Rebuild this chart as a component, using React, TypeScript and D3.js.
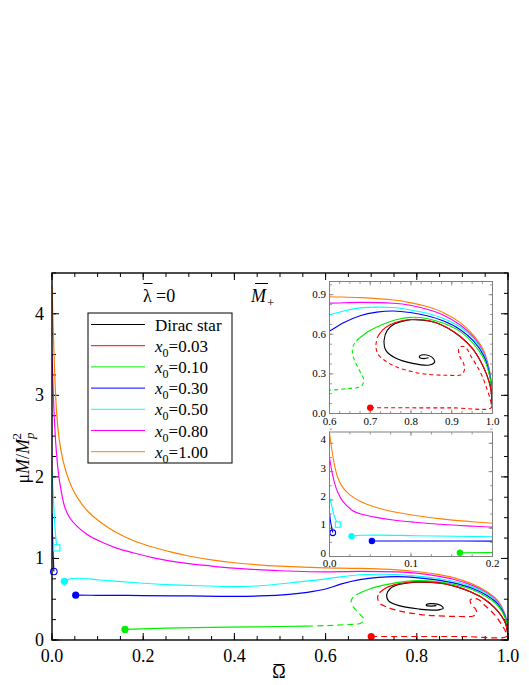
import React from 'react'
import * as d3 from 'd3'

type Pt = [number, number]

// each curve is a list of [Omega, muM/Mp^2]
const diracStar: Pt[] = [
  [1.0, 0.05], [0.995, 0.2], [0.985, 0.3], [0.97, 0.4], [0.95, 0.495], [0.92, 0.585],
  [0.89, 0.648], [0.86, 0.69], [0.83, 0.707], [0.8, 0.71], [0.78, 0.7], [0.76, 0.68],
  [0.742, 0.632], [0.734, 0.557], [0.738, 0.48], [0.763, 0.418], [0.804, 0.38],
  [0.845, 0.367], [0.858, 0.39], [0.852, 0.425], [0.835, 0.445], [0.822, 0.438],
  [0.821, 0.424], [0.832, 0.416], [0.843, 0.422]
]

const x003Dashed: Pt[] = [
  [0.7, 0.043], [0.8, 0.043], [0.9, 0.043], [0.997, 0.045], [0.995, 0.1], [0.987, 0.18],
  [0.975, 0.28], [0.96, 0.37], [0.946, 0.44], [0.937, 0.49], [0.926, 0.51], [0.917, 0.49],
  [0.92, 0.43], [0.929, 0.38], [0.931, 0.33], [0.924, 0.295], [0.884, 0.29], [0.837, 0.298],
  [0.804, 0.316], [0.763, 0.354], [0.734, 0.405], [0.718, 0.455], [0.714, 0.52], [0.718, 0.58]
]
const x003Solid: Pt[] = [
  [0.718, 0.58], [0.73, 0.632], [0.75, 0.675], [0.775, 0.7], [0.8, 0.712], [0.83, 0.71],
  [0.86, 0.69], [0.89, 0.648], [0.92, 0.585], [0.95, 0.495], [0.97, 0.4], [0.985, 0.3],
  [0.995, 0.2], [1.0, 0.05]
]

const x010Solid1: Pt[] = [[0.16, 0.13], [0.25, 0.145], [0.35, 0.155], [0.45, 0.162], [0.56, 0.17]]
const x010Dashed: Pt[] = [
  [0.56, 0.17], [0.603, 0.177], [0.648, 0.19], [0.677, 0.205], [0.684, 0.25], [0.673, 0.33],
  [0.661, 0.405], [0.656, 0.48], [0.663, 0.54], [0.673, 0.57]
]
const x010Solid2: Pt[] = [
  [0.673, 0.57], [0.697, 0.625], [0.73, 0.675], [0.763, 0.71], [0.798, 0.728], [0.839, 0.72],
  [0.88, 0.683], [0.921, 0.62], [0.953, 0.53], [0.978, 0.42], [0.994, 0.27], [1.0, 0.05]
]

const x030Upper: Pt[] = [[0, 1.55], [0.001, 1.3], [0.0025, 1.05], [0.004, 0.84]]
const x030Lower: Pt[] = [
  [0.052, 0.55], [0.1, 0.548], [0.2, 0.545], [0.3, 0.54], [0.4, 0.535], [0.456, 0.54],
  [0.52, 0.56], [0.56, 0.585], [0.6, 0.625], [0.633, 0.685], [0.675, 0.74], [0.716, 0.768],
  [0.757, 0.777], [0.798, 0.765], [0.839, 0.74], [0.88, 0.7], [0.921, 0.635], [0.953, 0.55],
  [0.978, 0.44], [0.994, 0.28], [1.0, 0.05]
]

const x050Upper: Pt[] = [[0, 2.08], [0.003, 1.75], [0.006, 1.42], [0.0105, 1.13]]
const x050Lower: Pt[] = [
  [0.027, 0.72], [0.04, 0.75], [0.061, 0.757], [0.105, 0.736], [0.178, 0.705], [0.251, 0.68],
  [0.325, 0.665], [0.398, 0.655], [0.456, 0.665], [0.529, 0.705], [0.588, 0.74], [0.633, 0.775],
  [0.675, 0.8], [0.716, 0.806], [0.757, 0.803], [0.798, 0.785], [0.839, 0.76], [0.88, 0.72],
  [0.921, 0.655], [0.953, 0.57], [0.978, 0.455], [0.994, 0.29], [1.0, 0.05]
]

const x080: Pt[] = [
  [0, 3.5], [0.003, 3.0], [0.006, 2.62], [0.01, 2.28], [0.0164, 1.95], [0.0285, 1.62],
  [0.04, 1.49], [0.054, 1.4], [0.078, 1.29], [0.105, 1.21], [0.14, 1.13], [0.178, 1.07],
  [0.22, 1.01], [0.251, 0.977], [0.3, 0.937], [0.35, 0.907], [0.398, 0.882], [0.45, 0.862],
  [0.5, 0.849], [0.55, 0.84], [0.6, 0.836], [0.675, 0.842], [0.757, 0.835], [0.798, 0.82],
  [0.839, 0.79], [0.88, 0.745], [0.921, 0.67], [0.953, 0.58], [0.978, 0.465], [0.994, 0.3],
  [1.0, 0.05]
]

const x100: Pt[] = [
  [0, 4.35], [0.003, 3.75], [0.006, 3.25], [0.01, 2.8], [0.016, 2.45], [0.025, 2.18],
  [0.037, 1.96], [0.05, 1.8], [0.065, 1.67], [0.08, 1.57], [0.105, 1.45], [0.14, 1.32],
  [0.178, 1.22], [0.22, 1.14], [0.26, 1.08], [0.3, 1.03], [0.35, 0.982], [0.4, 0.947],
  [0.45, 0.922], [0.5, 0.905], [0.55, 0.893], [0.6, 0.885], [0.675, 0.878], [0.757, 0.86],
  [0.798, 0.84], [0.839, 0.81], [0.88, 0.764], [0.921, 0.688], [0.953, 0.594], [0.978, 0.48],
  [0.994, 0.3], [1.0, 0.05]
]

const filledDots: { p: Pt; c: string }[] = [
  { p: [0.7, 0.043], c: '#ff0000' },
  { p: [0.16, 0.13], c: '#00ee00' },
  { p: [0.052, 0.55], c: '#0000ff' },
  { p: [0.027, 0.72], c: '#00ffff' }
]
const openCircle: Pt = [0.004, 0.84]
const openSquare: Pt = [0.0105, 1.13]

const legendNames = ['Dirac star', '0.03', '0.10', '0.30', '0.50', '0.80', '1.00']
const legendColors = ['#000000', '#ff0000', '#00ee00', '#0000ff', '#00ffff', '#ff00ff', '#ff8000']

// drawing order: orange at the back, red on top
const curves = [
  { pts: x100, c: '#ff8000', dashed: false },
  { pts: x080, c: '#ff00ff', dashed: false },
  { pts: x050Upper, c: '#00ffff', dashed: false },
  { pts: x050Lower, c: '#00ffff', dashed: false },
  { pts: x030Upper, c: '#0000ff', dashed: false },
  { pts: x030Lower, c: '#0000ff', dashed: false },
  { pts: x010Solid1, c: '#00ee00', dashed: false },
  { pts: x010Dashed, c: '#00ee00', dashed: true },
  { pts: x010Solid2, c: '#00ee00', dashed: false },
  { pts: diracStar, c: '#000000', dashed: false },
  { pts: x003Dashed, c: '#ff0000', dashed: true },
  { pts: x003Solid, c: '#ff0000', dashed: false }
]

const FONT = 'Liberation Serif, Times New Roman, serif'

const steps = (a: number, b: number, s: number) => d3.range(a, b + s / 2, s).map(v => +v.toFixed(4))

type PanelProps = {
  id: string
  sx: d3.ScaleLinear<number, number>
  sy: d3.ScaleLinear<number, number>
  xMajor: number[]
  xMinor: number[]
  yMajor: number[]
  yMinor: number[]
  tMaj: number
  tMin: number
  stroke: string
  strokeW: number
  font: number
  fmtX: (v: number) => string
  fmtY: (v: number) => string
  xLabelY: number
  yLabelX: number
  yLabelDy: number
  r: number
  lineW: number
  dash: string
  inset?: boolean
}

function Panel(p: PanelProps) {
  const [x0, x1] = p.sx.range()
  const [yb, yt] = p.sy.range()
  const [dx0, dx1] = p.sx.domain()
  const [dy0, dy1] = p.sy.domain()
  const line = d3
    .line<Pt>()
    .x(d => p.sx(d[0]))
    .y(d => p.sy(d[1]))
    .curve(d3.curveCatmullRom.alpha(0.5))
  const inside = (d: Pt) => d[0] >= dx0 && d[0] <= dx1 && d[1] >= dy0 && d[1] <= dy1
  const ticks: JSX.Element[] = []
  const addX = (vals: number[], len: number, k: string) =>
    vals.forEach((v, i) => {
      const x = p.sx(v)
      ticks.push(<line key={k + 'b' + i} x1={x} x2={x} y1={yb} y2={yb - len} />)
      ticks.push(<line key={k + 't' + i} x1={x} x2={x} y1={yt} y2={yt + len} />)
    })
  const addY = (vals: number[], len: number, k: string) =>
    vals.forEach((v, i) => {
      const y = p.sy(v)
      ticks.push(<line key={k + 'l' + i} x1={x0} x2={x0 + len} y1={y} y2={y} />)
      ticks.push(<line key={k + 'r' + i} x1={x1} x2={x1 - len} y1={y} y2={y} />)
    })
  addX(p.xMinor, p.tMin, 'xm')
  addX(p.xMajor, p.tMaj, 'xM')
  addY(p.yMinor, p.tMin, 'ym')
  addY(p.yMajor, p.tMaj, 'yM')
  return (
    <g>
      {p.inset && <rect x={x0} y={yt} width={x1 - x0} height={yb - yt} fill="#fff" />}
      <clipPath id={p.id}>
        <rect x={x0} y={yt} width={x1 - x0} height={yb - yt} />
      </clipPath>
      <g stroke={p.stroke} strokeWidth={p.inset ? 0.8 : 1}>{ticks}</g>
      <g clipPath={`url(#${p.id})`} fill="none">
        {curves.map((c, i) => (
          <path
            key={i}
            d={line(c.pts) || ''}
            stroke={c.c}
            strokeWidth={p.lineW}
            strokeDasharray={c.dashed ? p.dash : undefined}
          />
        ))}
      </g>
      {filledDots.filter(d => inside(d.p)).map((d, i) => (
        <circle key={i} cx={p.sx(d.p[0])} cy={p.sy(d.p[1])} r={p.r} fill={d.c} />
      ))}
      {inside(openCircle) && (
        <circle cx={p.sx(openCircle[0])} cy={p.sy(openCircle[1])} r={p.r - 0.3} fill="none" stroke="#0000ff" strokeWidth={1.1} />
      )}
      {inside(openSquare) && (
        <rect
          x={p.sx(openSquare[0]) - p.r + 0.5}
          y={p.sy(openSquare[1]) - p.r + 0.5}
          width={2 * p.r - 1}
          height={2 * p.r - 1}
          fill="#fff"
          stroke="#00ffff"
          strokeWidth={1.1}
        />
      )}
      <rect x={x0} y={yt} width={x1 - x0} height={yb - yt} fill="none" stroke={p.stroke} strokeWidth={p.strokeW} />
      <g style={{ fontFamily: FONT }} fontSize={p.font} fill="#000">
        {p.xMajor.map((v, i) => (
          <text key={'lx' + i} x={p.sx(v)} y={p.xLabelY} textAnchor="middle">
            {p.fmtX(v)}
          </text>
        ))}
        {p.yMajor.map((v, i) => (
          <text key={'ly' + i} x={p.yLabelX} y={p.sy(v) + p.yLabelDy} textAnchor="end">
            {p.fmtY(v)}
          </text>
        ))}
      </g>
    </g>
  )
}

const mainX = d3.scaleLinear().domain([0, 1]).range([52, 508])
const mainY = d3.scaleLinear().domain([0, 4.5]).range([640, 273])
const upX = d3.scaleLinear().domain([0.6, 1]).range([329.5, 492.5])
const upY = d3.scaleLinear().domain([0, 1]).range([413.5, 281.5])
const loX = d3.scaleLinear().domain([0, 0.2]).range([329.5, 492.5])
const loY = d3.scaleLinear().domain([0, 4.4]).range([556.5, 432])

export default function App() {
  const legendX = 88
  const legendTop = 313
  const rowH = 21.2
  return (
    <svg width={529} height={685} style={{ position: 'absolute', left: 0, top: 0, background: '#fff' }}>
      <Panel
        id="clipMain"
        sx={mainX}
        sy={mainY}
        xMajor={steps(0, 1, 0.2)}
        xMinor={steps(0, 1, 0.05)}
        yMajor={steps(0, 4, 1)}
        yMinor={steps(0, 4.5, 0.25)}
        tMaj={7}
        tMin={4}
        stroke="#000"
        strokeW={1.4}
        font={18}
        fmtX={d3.format('.1f')}
        fmtY={d3.format('d')}
        xLabelY={662}
        yLabelX={44}
        yLabelDy={6}
        r={3.6}
        lineW={1.2}
        dash="6,4"
      />

      {/* legend */}
      <rect x={legendX} y={legendTop} width={144} height={150} fill="#fff" stroke="#000" strokeWidth={1} />
      {legendNames.map((name, i) => {
        const y = legendTop + 11.5 + i * rowH
        return (
          <g key={name}>
            <line x1={91} x2={145} y1={y} y2={y} stroke={legendColors[i]} strokeWidth={1} />
            <text x={155} y={y + 6} style={{ fontFamily: FONT }} fontSize={17}>
              {i === 0 ? (
                name
              ) : (
                <>
                  <tspan fontStyle="italic">x</tspan>
                  <tspan fontSize={12} dy={5}>0</tspan>
                  <tspan dy={-5}>={name}</tspan>
                </>
              )}
            </text>
          </g>
        )
      })}

      {/* annotations */}
      <g style={{ fontFamily: FONT }} fontSize={18}>
        <text x={143} y={302}>λ</text>
        <line x1={143.5} x2={152.5} y1={283.5} y2={283.5} stroke="#000" strokeWidth={1} />
        <text x={156} y={302}>=0</text>
        <text x={251} y={302} fontStyle="italic">M</text>
        <line x1={255} x2={268} y1={283.5} y2={283.5} stroke="#000" strokeWidth={1} />
        <text x={267} y={307} fontSize={13}>+</text>
        <text x={279} y={678} textAnchor="middle" fontSize={18}>Ω</text>
        <line x1={273.5} x2={284.5} y1={664.5} y2={664.5} stroke="#000" strokeWidth={1} />
        <text transform="translate(29,458) rotate(-90)" textAnchor="middle" fontSize={18}>
          <tspan>μ</tspan>
          <tspan fontStyle="italic">M</tspan>
          <tspan>/</tspan>
          <tspan fontStyle="italic">M</tspan>
          <tspan fontStyle="italic" fontSize={13} dy={5}>p</tspan>
          <tspan fontSize={13} dx={-7} dy={-13}>2</tspan>
        </text>
      </g>

      <Panel
        id="clipUp"
        inset
        sx={upX}
        sy={upY}
        xMajor={steps(0.6, 1, 0.1)}
        xMinor={steps(0.6, 1, 0.025)}
        yMajor={steps(0, 0.9, 0.3)}
        yMinor={steps(0, 1, 0.075)}
        tMaj={4}
        tMin={2.5}
        stroke="#808080"
        strokeW={1}
        font={11}
        fmtX={d3.format('.1f')}
        fmtY={d3.format('.1f')}
        xLabelY={425}
        yLabelX={326}
        yLabelDy={3.5}
        r={3.2}
        lineW={1.1}
        dash="4,3"
      />
      <Panel
        id="clipLo"
        inset
        sx={loX}
        sy={loY}
        xMajor={steps(0, 0.2, 0.1)}
        xMinor={steps(0, 0.2, 0.025)}
        yMajor={steps(0, 4, 1)}
        yMinor={steps(0, 4.4, 0.5)}
        tMaj={4}
        tMin={2.5}
        stroke="#808080"
        strokeW={1}
        font={11}
        fmtX={d3.format('.1f')}
        fmtY={d3.format('d')}
        xLabelY={567}
        yLabelX={326}
        yLabelDy={0}
        r={3.2}
        lineW={1.1}
        dash="4,3"
      />
    </svg>
  )
}
